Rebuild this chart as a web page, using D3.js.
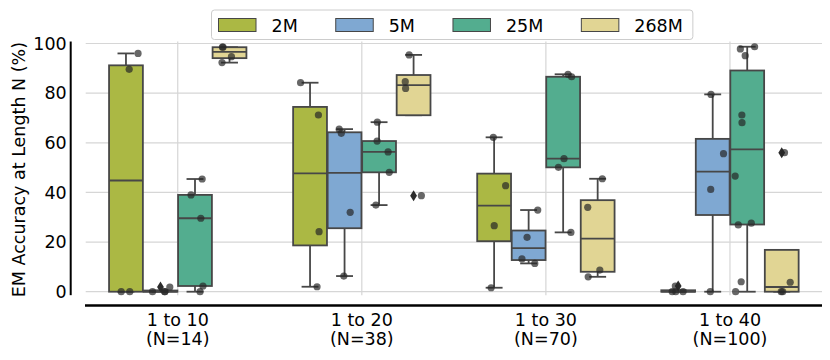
<!DOCTYPE html>
<html>
<head>
<meta charset="utf-8">
<script src="https://cdn.jsdelivr.net/npm/d3@7"></script>
<style>
  html, body { margin: 0; padding: 0; background: #fff; }
  svg { display: block; font-family: "DejaVu Sans", sans-serif; }
</style>
</head>
<body>
<svg id="chart" width="830" height="360"></svg>
<script>
// ---- data ----
const categories = ["1 to 10", "1 to 20", "1 to 30", "1 to 40"];
const sampleCounts = ["(N=14)", "(N=38)", "(N=70)", "(N=100)"];
const series = ["2M", "5M", "25M", "268M"];
const values2M = [[0, 0, 89.6, 96], [2, 24.2, 71.2, 84.2], [1.6, 26.6, 42.7, 62.2], [0, 0, 0, 2.3]];
const values5M = [[0, 0, 0, 1.9], [6.3, 32, 63.8, 65.5], [11.4, 13.2, 21.9, 32.9], [0, 41.2, 55.6, 79.5]];
const values25M = [[0, 2.3, 29.6, 39, 45.4], [34.9, 48.1, 56.3, 60.7, 68.3], [23.9, 50.1, 53.6, 86.6, 87.6],
                   [0, 4, 26.9, 27.6, 46.6, 68.1, 71.2, 95.1, 97.8, 98.7]];
const values268M = [[92.3, 94.7, 98.5, 98.5], [38.7, 81.9, 84.6, 95.4], [6, 8.7, 34, 45.5], [0, 0, 3.8, 56]];
const yTicks = [0, 20, 40, 60, 80, 100];
const colors = ["#abb844", "#7fa8d2", "#53ad8f", "#e1d594"];
const yLabel = "EM Accuracy at Length N (%)";

const seriesValues = [values2M, values5M, values25M, values268M];

// ---- layout ----
const svg = d3.select("#chart");
const plotL = 85.7, plotR = 822;
const font = 17.5;
const edge = "#474747";

const y = d3.scaleLinear().domain([0, 100]).range([291.7, 43.5]);
const x0 = d3.scaleBand().domain(categories).range([plotL, plotR]);
const x1 = d3.scaleBand().domain(series).range([0, x0.bandwidth() * 0.75]);
const groupStart = c => x0(c) + x0.bandwidth() * 0.125;
const boxW = x1.bandwidth() * 0.98;

// gridlines
const grid = svg.append("g").attr("class", "grid");
grid.selectAll("line.h").data(yTicks).join("line")
  .attr("x1", plotL).attr("x2", plotR)
  .attr("y1", d => y(d)).attr("y2", d => y(d))
  .attr("stroke", "#d6d6d6").attr("stroke-width", 1.2);
grid.selectAll("line.v").data(categories).join("line")
  .attr("x1", d => x0(d) + x0.bandwidth() / 2).attr("x2", d => x0(d) + x0.bandwidth() / 2)
  .attr("y1", y(100.8)).attr("y2", y(-1.4))
  .attr("stroke", "#d6d6d6").attr("stroke-width", 1.2);

// box statistics (matplotlib style, 1.5 IQR)
function stats(vals) {
  const s = vals.slice().sort(d3.ascending);
  const q1 = d3.quantile(s, 0.25), med = d3.quantile(s, 0.5), q3 = d3.quantile(s, 0.75);
  const iqr = q3 - q1;
  const lo = q1 - 1.5 * iqr, hi = q3 + 1.5 * iqr;
  const inLo = s.filter(v => v >= lo), inHi = s.filter(v => v <= hi);
  let wlo = d3.min(inLo), whi = d3.max(inHi);
  if (wlo > q1) wlo = q1;
  if (whi < q3) whi = q3;
  const fliers = s.filter(v => v < lo || v > hi);
  return { q1, med, q3, wlo, whi, fliers };
}

const boxes = [];
categories.forEach((c, ci) => {
  series.forEach((sName, si) => {
    const vals = seriesValues[si][ci];
    boxes.push({ c, ci, s: sName, si, vals, st: stats(vals),
      cx: groupStart(c) + x1(sName) + x1.bandwidth() / 2 });
  });
});

const gb = svg.append("g").attr("class", "boxes");
boxes.forEach(b => {
  const g = gb.append("g");
  const st = b.st, cx = b.cx, capW = boxW / 2;
  // whiskers
  g.append("line").attr("x1", cx).attr("x2", cx).attr("y1", y(st.q1)).attr("y2", y(st.wlo))
    .attr("stroke", edge).attr("stroke-width", 1.8);
  g.append("line").attr("x1", cx).attr("x2", cx).attr("y1", y(st.q3)).attr("y2", y(st.whi))
    .attr("stroke", edge).attr("stroke-width", 1.8);
  // caps
  [st.wlo, st.whi].forEach(v => {
    g.append("line").attr("x1", cx - capW / 2).attr("x2", cx + capW / 2)
      .attr("y1", y(v)).attr("y2", y(v)).attr("stroke", edge).attr("stroke-width", 1.8);
  });
  // box
  g.append("rect").attr("x", cx - boxW / 2).attr("width", boxW)
    .attr("y", y(st.q3)).attr("height", Math.max(0.01, y(st.q1) - y(st.q3)))
    .attr("fill", colors[b.si]).attr("stroke", edge).attr("stroke-width", 1.8);
  // median
  g.append("line").attr("x1", cx - boxW / 2).attr("x2", cx + boxW / 2)
    .attr("y1", y(st.med)).attr("y2", y(st.med)).attr("stroke", edge).attr("stroke-width", 1.8);
  // fliers (thin diamonds)
  st.fliers.forEach(v => {
    const py = y(v), hw = 3.4, hh = 5.5;
    g.append("path").attr("d", `M${cx},${py - hh}L${cx + hw},${py}L${cx},${py + hh}L${cx - hw},${py}Z`)
      .attr("fill", "#2b2b2b");
  });
});

// strip points with deterministic jitter
let seed = 12345;
function rnd() { seed = (seed * 1103515245 + 12345) % 2147483648; return seed / 2147483648; }
const gp = svg.append("g").attr("class", "points");
boxes.forEach(b => {
  b.vals.forEach(v => {
    const j = (rnd() - 0.5) * 2 * boxW * 0.36;
    gp.append("circle").attr("cx", b.cx + j).attr("cy", y(v)).attr("r", 3.6)
      .attr("fill", "#262626").attr("fill-opacity", 0.7);
  });
});

// y axis
const yAxis = svg.append("g").attr("transform", "translate(70.7,0)")
  .call(d3.axisLeft(y).tickValues(yTicks).tickSize(0).tickPadding(4));
yAxis.select(".domain").remove();
yAxis.selectAll("text").attr("font-size", font).attr("font-family", "DejaVu Sans").attr("fill", "#000");
svg.append("line").attr("x1", 70.7).attr("x2", 70.7).attr("y1", y(100.8)).attr("y2", y(-1.4))
  .attr("stroke", "#000").attr("stroke-width", 2);

svg.append("text").attr("transform", `translate(25,${(y(100) + y(0)) / 2 + 2}) rotate(-90)`)
  .attr("text-anchor", "middle").attr("font-size", font).attr("fill", "#000").text(yLabel);

// x axis
svg.append("line").attr("x1", 85).attr("x2", plotR).attr("y1", 305.5).attr("y2", 305.5)
  .attr("stroke", "#000").attr("stroke-width", 2.6);
const xAxis = svg.append("g").attr("transform", "translate(0,305)")
  .call(d3.axisBottom(x0).tickSize(0).tickPadding(0));
xAxis.select(".domain").remove();
xAxis.selectAll(".tick text").each(function (d, i) {
  const t = d3.select(this).text(null).attr("font-size", font).attr("fill", "#000")
    .attr("font-family", "DejaVu Sans").attr("dy", null).attr("y", 0);
  t.append("tspan").attr("x", 0).attr("y", 21).text(d);
  t.append("tspan").attr("x", 0).attr("y", 40).text(sampleCounts[i]);
});

// legend
const leg = svg.append("g").attr("class", "legend");
const legBox = leg.append("rect").attr("y", 10).attr("height", 29.5).attr("rx", 3)
  .attr("fill", "#fff").attr("fill-opacity", 0.85).attr("stroke", "#cccccc").attr("stroke-width", 1);
let lx = 218.5;
series.forEach((s, i) => {
  leg.append("rect").attr("x", lx).attr("y", 18.5).attr("width", 37.5).attr("height", 13)
    .attr("fill", colors[i]).attr("stroke", edge).attr("stroke-width", 1);
  const t = leg.append("text").attr("x", lx + 53).attr("y", 31.5).attr("font-size", font)
    .attr("fill", "#000").text(s);
  const w = t.node().getComputedTextLength();
  lx = lx + 53 + w + 38;
});
legBox.attr("x", 211.5).attr("width", lx - 38 + 10 - 211.5);
</script>
</body>
</html>
